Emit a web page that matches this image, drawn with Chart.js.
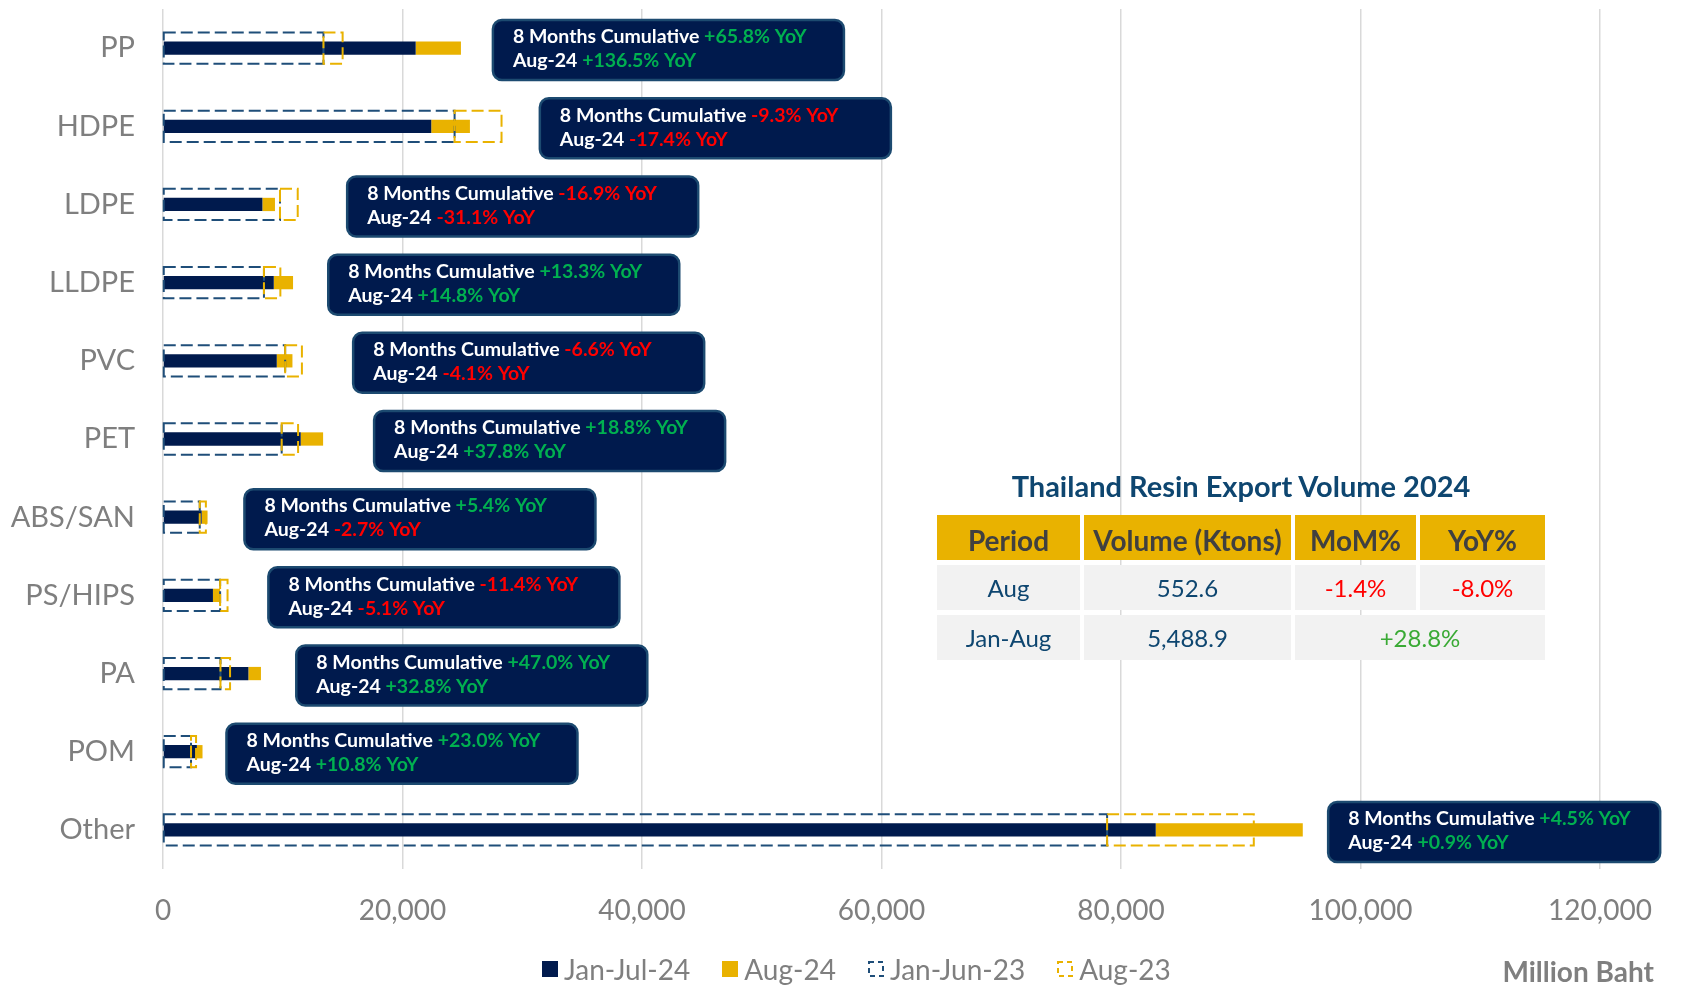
<!DOCTYPE html>
<html>
<head>
<meta charset="utf-8">
<script src="https://cdn.jsdelivr.net/npm/chart.js@4.4.1/dist/chart.umd.min.js"></script>
<style>
  body { margin: 0; background: #fff; font-family: 'Lato', sans-serif; }
  #wrap { position: relative; width: 1688px; height: 987px; }
  #unit {
    position: absolute; right: 34px; top: 954px;
    font-size: 28px; font-weight: 700; color: #7f7f7f;
  }
  #legend {
    position: absolute; left: 542px; top: 950px; height: 38px;
    display: flex; align-items: center;
    font-size: 28px; color: #7f7f7f;
  }
  #legend .item { display: flex; align-items: center; margin-right: 32px; }
  #legend svg { margin-right: 6px; }
  #summary { position: absolute; left: 937px; top: 468px; width: 608px; }
  #summary h3 {
    margin: 0 0 12px; text-align: center; white-space: nowrap;
    font-size: 29px; font-weight: 700; color: #0e4670;
  }
  .grid {
    display: grid;
    grid-template-columns: 143px 207px 121px 125px;
    grid-auto-rows: 45px;
    column-gap: 4px; row-gap: 5px;
  }
  .grid div {
    display: flex; align-items: center; justify-content: center;
    background: #f2f2f2; color: #0e4670; font-size: 24px;
  }
  .grid .hd { background: #e9b200; color: #404040; font-weight: 700; font-size: 28px; padding-top: 4px; box-sizing: border-box; }
  .grid .neg { color: #ff0000; }
  .grid .pos { color: #3aaa35; grid-column: span 2; }
</style>
</head>
<body>
<div id="wrap">
  <canvas id="chart"></canvas>
  <div id="summary">
    <h3>Thailand Resin Export Volume 2024</h3>
    <div class="grid" id="tbl"></div>
  </div>
  <div id="legend"></div>
  <div id="unit">Million Baht</div>
</div>
<script>
const categories = ['PP', 'HDPE', 'LDPE', 'LLDPE', 'PVC', 'PET', 'ABS/SAN', 'PS/HIPS', 'PA', 'POM', 'Other'];

// million baht
const janJul24 = [21100, 22400, 8300, 9250, 9500, 11500, 3230, 4170, 7130, 2830, 82900];
const aug24    = [3780, 3230, 1050, 1610, 1310, 1870, 490, 600, 1050, 470, 12280];
const janJun23 = [13400, 24350, 9770, 8430, 10200, 9910, 3070, 4770, 4800, 2340, 78840];
const aug23    = [1600, 3920, 1480, 1370, 1400, 1370, 510, 620, 800, 420, 12250];

const cumYoY = ['+65.8%', '-9.3%', '-16.9%', '+13.3%', '-6.6%', '+18.8%', '+5.4%', '-11.4%', '+47.0%', '+23.0%', '+4.5%'];
const augYoY = ['+136.5%', '-17.4%', '-31.1%', '+14.8%', '-4.1%', '+37.8%', '-2.7%', '-5.1%', '+32.8%', '+10.8%', '+0.9%'];
// where each callout box starts, on the value axis
const calloutAt = [27550, 31470, 15380, 13800, 15880, 17630, 6800, 8800, 11130, 5300, 97300];

const tableHead = ['Period', 'Volume (Ktons)', 'MoM%', 'YoY%'];
const tableAug = ['Aug', '552.6', '-1.4%', '-8.0%'];
const tableYtd = ['Jan-Aug', '5,488.9', '+28.8%'];

const NAVY = '#001a4d';
const GOLD = '#e9b200';
const DASH_NAVY = '#1f4e79';
const GREEN = '#00b050';
const RED = '#ff0000';

// summary table
const tbl = document.getElementById('tbl');
tableHead.forEach(t => tbl.insertAdjacentHTML('beforeend', `<div class="hd">${t}</div>`));
tableAug.forEach((t, i) => tbl.insertAdjacentHTML('beforeend', `<div class="${i > 1 ? 'neg' : ''}">${t}</div>`));
tableYtd.forEach((t, i) => tbl.insertAdjacentHTML('beforeend', `<div class="${i === 2 ? 'pos' : ''}">${t}</div>`));

// dashed outlines for the 2023 bars
const dashedBars = {
  id: 'dashedBars',
  afterDatasetsDraw(chart) {
    const ctx = chart.ctx;
    chart.data.datasets.forEach((ds, di) => {
      if (!ds.dashColor) return;
      chart.getDatasetMeta(di).data.forEach(bar => {
        const p = bar.getProps(['x', 'y', 'base', 'height'], true);
        ctx.save();
        ctx.strokeStyle = ds.dashColor;
        ctx.lineWidth = 2;
        ctx.setLineDash([12, 5]);
        ctx.strokeRect(Math.min(p.base, p.x), p.y - p.height / 2, Math.abs(p.x - p.base), p.height);
        ctx.restore();
      });
    });
  }
};

function roundRect(ctx, x, y, w, h, r) {
  ctx.beginPath();
  ctx.moveTo(x + r, y);
  ctx.arcTo(x + w, y, x + w, y + h, r);
  ctx.arcTo(x + w, y + h, x, y + h, r);
  ctx.arcTo(x, y + h, x, y, r);
  ctx.arcTo(x, y, x + w, y, r);
  ctx.closePath();
}

const callouts = {
  id: 'callouts',
  afterDraw(chart) {
    const ctx = chart.ctx;
    const xs = chart.scales.x, ys = chart.scales.y;
    ctx.save();
    categories.forEach((c, i) => {
      const x = xs.getPixelForValue(calloutAt[i]);
      const w = i === categories.length - 1 ? 332 : 351;
      const h = 60;
      const y = ys.getPixelForValue(i) - h / 2 + 2;
      roundRect(ctx, x, y, w, h, 9);
      ctx.fillStyle = NAVY;
      ctx.fill();
      ctx.lineWidth = 2.5;
      ctx.strokeStyle = '#1c4a70';
      ctx.stroke();

      ctx.font = 'bold 19.5px Lato';
      ctx.textBaseline = 'middle';
      const lines = [['8 Months Cumulative ', cumYoY[i]], ['Aug-24 ', augYoY[i]]];
      lines.forEach(([lead, val], k) => {
        const ty = y + (k === 0 ? 17 : 41);
        ctx.fillStyle = '#ffffff';
        ctx.fillText(lead, x + 20, ty);
        const lw = ctx.measureText(lead).width;
        ctx.fillStyle = val.startsWith('-') ? RED : GREEN;
        ctx.fillText(val + ' YoY', x + 20 + lw, ty);
      });
    });
    ctx.restore();
  }
};

const datasets = [
  { label: 'Jan-Jul-24', data: janJul24, stack: 's24', backgroundColor: NAVY,
    grouped: false, categoryPercentage: 1, barPercentage: 0.17 },
  { label: 'Aug-24', data: aug24, stack: 's24', backgroundColor: GOLD,
    grouped: false, categoryPercentage: 1, barPercentage: 0.17 },
  { label: 'Jan-Jun-23', data: janJun23, stack: 's23', backgroundColor: 'rgba(0,0,0,0)',
    dashColor: DASH_NAVY, grouped: false, categoryPercentage: 1, barPercentage: 0.4 },
  { label: 'Aug-23', data: aug23, stack: 's23', backgroundColor: 'rgba(0,0,0,0)',
    dashColor: GOLD, grouped: false, categoryPercentage: 1, barPercentage: 0.4 }
];

// legend
const legend = document.getElementById('legend');
datasets.forEach(ds => {
  const icon = ds.dashColor
    ? `<rect x="1" y="1" width="14" height="14" fill="none" stroke="${ds.dashColor}" stroke-width="2" stroke-dasharray="5 4"/>`
    : `<rect x="0" y="0" width="16" height="16" fill="${ds.backgroundColor}"/>`;
  legend.insertAdjacentHTML('beforeend',
    `<div class="item"><svg width="16" height="16">${icon}</svg><span>${ds.label}</span></div>`);
});

new Chart(document.getElementById('chart'), {
  type: 'bar',
  data: { labels: categories, datasets },
  options: {
    indexAxis: 'y',
    responsive: true,
    maintainAspectRatio: false,
    animation: false,
    layout: { padding: { top: 9, right: 88, bottom: 0 } },
    scales: {
      x: {
        stacked: true,
        min: 0, max: 120000,
        ticks: {
          stepSize: 20000, padding: 25, color: '#7f7f7f',
          font: { family: 'Lato', size: 28 },
          callback: v => v.toLocaleString('en-US')
        },
        grid: { color: '#d9d9d9', lineWidth: 1.5, drawTicks: false },
        border: { display: false },
        afterFit: s => { s.height = 118; }
      },
      y: {
        stacked: true,
        ticks: { padding: 28, color: '#7f7f7f', font: { family: 'Lato', size: 29 } },
        grid: { display: false, drawTicks: false },
        border: { display: false },
        afterFit: s => { s.width = 163; s.paddingTop = 0; s.paddingBottom = 0; }
      }
    },
    plugins: {
      tooltip: { enabled: false },
      legend: { display: false }
    }
  },
  plugins: [dashedBars, callouts]
});
</script>
</body>
</html>
